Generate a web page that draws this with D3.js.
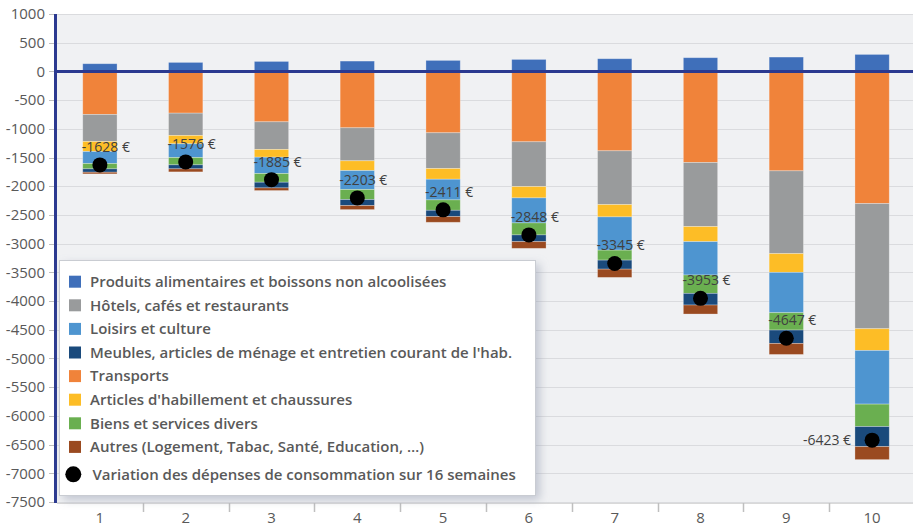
<!DOCTYPE html>
<html>
<head>
<meta charset="utf-8">
<script src="https://cdn.jsdelivr.net/npm/d3@7"></script>
<style>
  body { margin: 0; background: #fff; }
  text { font-family: "Open Sans", sans-serif; }
</style>
</head>
<body>
<div id="chart"></div>
<script>
// weeks on the x axis
var weeks = ['1', '2', '3', '4', '5', '6', '7', '8', '9', '10'];

// euros per category (stack order: food up, then the rest down)
var food      = [134, 157, 174, 180, 192, 209, 221, 239, 250, 296];
var transport = [-750, -727, -878, -982, -1069, -1226, -1383, -1587, -1732, -2302];
var hotels    = [-471, -389, -482, -575, -623, -780, -937, -1116, -1442, -2180];
var clothing  = [-174, -145, -134, -170, -186, -197, -214, -262, -326, -378];
var leisure   = [-210, -239, -285, -331, -360, -436, -579, -581, -703, -935];
var misc      = [-92, -127, -151, -174, -181, -209, -174, -320, -302, -391];
var furniture = [-59, -70, -99, -105, -110, -117, -157, -203, -233, -349];
var others    = [-29, -53, -46, -70, -99, -117, -144, -157, -192, -227];

// net variation (black dots)
var totals = [-1628, -1576, -1885, -2203, -2411, -2848, -3345, -3953, -4647, -6423];

var yTicks = [1000, 500, 0, -500, -1000, -1500, -2000, -2500, -3000, -3500, -4000,
  -4500, -5000, -5500, -6000, -6500, -7000, -7500];

var series = [
  { key: 'food', label: 'Produits alimentaires et boissons non alcoolisées', values: food, color: '#3f6fba' },
  { key: 'transport', label: 'Transports', values: transport, color: '#f0833a' },
  { key: 'hotels', label: 'Hôtels, cafés et restaurants', values: hotels, color: '#999b9c' },
  { key: 'clothing', label: "Articles d'habillement et chaussures", values: clothing, color: '#fdbd26' },
  { key: 'leisure', label: 'Loisirs et culture', values: leisure, color: '#4e95d0' },
  { key: 'misc', label: 'Biens et services divers', values: misc, color: '#6aaf50' },
  { key: 'furniture', label: "Meubles, articles de ménage et entretien courant de l'hab.", values: furniture, color: '#1a4a7c' },
  { key: 'others', label: 'Autres (Logement, Tabac, Santé, Education, …)', values: others, color: '#9a4a20' }
];

// legend lists them in a different order
var legendOrder = ['food', 'hotels', 'leisure', 'furniture', 'transport', 'clothing', 'misc', 'others'];

var W = 913, H = 528;
var plot = { left: 57, right: 915, top: 14, bottom: 503 };

var svg = d3.select('#chart').append('svg')
  .attr('width', W)
  .attr('height', H);

var x = d3.scaleBand()
  .domain(weeks)
  .range([plot.left, plot.right])
  .paddingInner(0.6)
  .paddingOuter(0.3);

var y = d3.scaleLinear()
  .domain([-7500, 1000])
  .range([502, 14]);

// table for d3.stack
var table = weeks.map(function(w, i) {
  var row = { week: w };
  series.forEach(function(s) { row[s.key] = s.values[i]; });
  return row;
});

var stacked = d3.stack()
  .keys(series.map(function(s) { return s.key; }))
  .offset(d3.stackOffsetDiverging)(table);

// plot background
svg.append('rect')
  .attr('x', plot.left)
  .attr('y', plot.top)
  .attr('width', W - plot.left)
  .attr('height', plot.bottom - plot.top)
  .attr('fill', '#f0f1f3');

// gridlines
svg.append('g')
  .selectAll('line')
  .data(yTicks)
  .enter().append('line')
  .attr('x1', plot.left)
  .attr('x2', W)
  .attr('y1', function(d) { return Math.round(y(d)) + 0.5; })
  .attr('y2', function(d) { return Math.round(y(d)) + 0.5; })
  .attr('stroke', '#dadbde')
  .attr('stroke-width', 1);

// y tick labels + little tick marks
var yAxis = svg.append('g');
yAxis.selectAll('text')
  .data(yTicks)
  .enter().append('text')
  .attr('x', 45)
  .attr('y', function(d) { return y(d); })
  .attr('dy', '0.35em')
  .attr('text-anchor', 'end')
  .attr('font-size', 15)
  .attr('fill', '#595959')
  .text(function(d) { return d; });
yAxis.selectAll('line')
  .data(yTicks)
  .enter().append('line')
  .attr('x1', 49)
  .attr('x2', 54)
  .attr('y1', function(d) { return Math.round(y(d)) + 0.5; })
  .attr('y2', function(d) { return Math.round(y(d)) + 0.5; })
  .attr('stroke', '#bfbfbf');

// bars
var colorOf = {};
series.forEach(function(s) { colorOf[s.key] = s.color; });

svg.append('g')
  .selectAll('g')
  .data(stacked)
  .enter().append('g')
  .attr('fill', function(d) { return colorOf[d.key]; })
  .selectAll('rect')
  .data(function(d) { return d; })
  .enter().append('rect')
  .attr('x', function(d) { return x(d.data.week); })
  .attr('width', x.bandwidth())
  .attr('y', function(d) { return y(Math.max(d[0], d[1])); })
  .attr('height', function(d) { return Math.abs(y(d[0]) - y(d[1])); })
  .attr('stroke', 'rgba(255,255,255,0.35)')
  .attr('stroke-width', 0.8);

// zero line
svg.append('line')
  .attr('x1', plot.left)
  .attr('x2', W)
  .attr('y1', y(0))
  .attr('y2', y(0))
  .attr('stroke', '#2b3990')
  .attr('stroke-width', 3);

// left axis line
svg.append('line')
  .attr('x1', 55.5)
  .attr('x2', 55.5)
  .attr('y1', plot.top)
  .attr('y2', plot.bottom)
  .attr('stroke', '#2b3990')
  .attr('stroke-width', 3);

// bottom axis line and category separators
svg.append('line')
  .attr('x1', plot.left)
  .attr('x2', W)
  .attr('y1', plot.bottom + 0.5)
  .attr('y2', plot.bottom + 0.5)
  .attr('stroke', '#d9d9d9');

var gap = x.step() - x.bandwidth();
svg.append('g')
  .selectAll('line')
  .data(weeks.slice(1))
  .enter().append('line')
  .attr('x1', function(d) { return Math.round(x(d) - gap / 2) + 0.5; })
  .attr('x2', function(d) { return Math.round(x(d) - gap / 2) + 0.5; })
  .attr('y1', plot.bottom)
  .attr('y2', plot.bottom + 9)
  .attr('stroke', '#bfbfbf')
  .attr('stroke-width', 1.5);

svg.append('g')
  .selectAll('text')
  .data(weeks)
  .enter().append('text')
  .attr('x', function(d) { return x(d) + x.bandwidth() / 2; })
  .attr('y', 518)
  .attr('dy', '0.35em')
  .attr('text-anchor', 'middle')
  .attr('font-size', 15)
  .attr('fill', '#595959')
  .text(function(d) { return d; });

// dots + value labels
var dots = svg.append('g');
dots.selectAll('circle')
  .data(totals)
  .enter().append('circle')
  .attr('cx', function(d, i) { return x(weeks[i]) + x.bandwidth() / 2; })
  .attr('cy', function(d) { return y(d); })
  .attr('r', 7.5)
  .attr('fill', '#000');

dots.selectAll('text')
  .data(totals)
  .enter().append('text')
  .attr('x', function(d, i) {
    var cx = x(weeks[i]) + x.bandwidth() / 2;
    return i === weeks.length - 1 ? cx - 21 : cx + 6;
  })
  .attr('y', function(d, i) {
    return i === weeks.length - 1 ? y(d) : y(d) - 18;
  })
  .attr('dy', '0.35em')
  .attr('text-anchor', function(d, i) { return i === weeks.length - 1 ? 'end' : 'middle'; })
  .attr('font-size', 14)
  .attr('fill', '#404040')
  .text(function(d) { return d + ' €'; });

// legend
var defs = svg.append('defs');
var shadow = defs.append('filter').attr('id', 'shadow')
  .attr('x', '-10%').attr('y', '-10%').attr('width', '130%').attr('height', '130%');
shadow.append('feDropShadow')
  .attr('dx', 4).attr('dy', 4).attr('stdDeviation', 5)
  .attr('flood-color', '#8a93a8').attr('flood-opacity', 0.45);

var legend = svg.append('g');
legend.append('rect')
  .attr('x', 59.5)
  .attr('y', 260.5)
  .attr('width', 476)
  .attr('height', 235)
  .attr('fill', '#fff')
  .attr('stroke', '#c9ccd2')
  .attr('filter', 'url(#shadow)');

var byKey = {};
series.forEach(function(s) { byKey[s.key] = s; });

var rows = legend.selectAll('g.item')
  .data(legendOrder)
  .enter().append('g')
  .attr('class', 'item')
  .attr('transform', function(d, i) { return 'translate(0,' + (281.7 + i * 23.6) + ')'; });

rows.append('rect')
  .attr('x', 69)
  .attr('y', -6)
  .attr('width', 12)
  .attr('height', 12)
  .attr('fill', function(d) { return byKey[d].color; });

rows.append('text')
  .attr('x', 90)
  .attr('dy', '0.35em')
  .attr('font-size', 15)
  .attr('font-weight', 600)
  .attr('fill', '#595959')
  .text(function(d) { return byKey[d].label; });

legend.append('circle')
  .attr('cx', 73.3)
  .attr('cy', 474.3)
  .attr('r', 8)
  .attr('fill', '#000');

legend.append('text')
  .attr('x', 92.5)
  .attr('y', 474.3)
  .attr('dy', '0.35em')
  .attr('font-size', 15)
  .attr('font-weight', 600)
  .attr('fill', '#595959')
  .text('Variation des dépenses de consommation sur 16 semaines');
</script>
</body>
</html>
